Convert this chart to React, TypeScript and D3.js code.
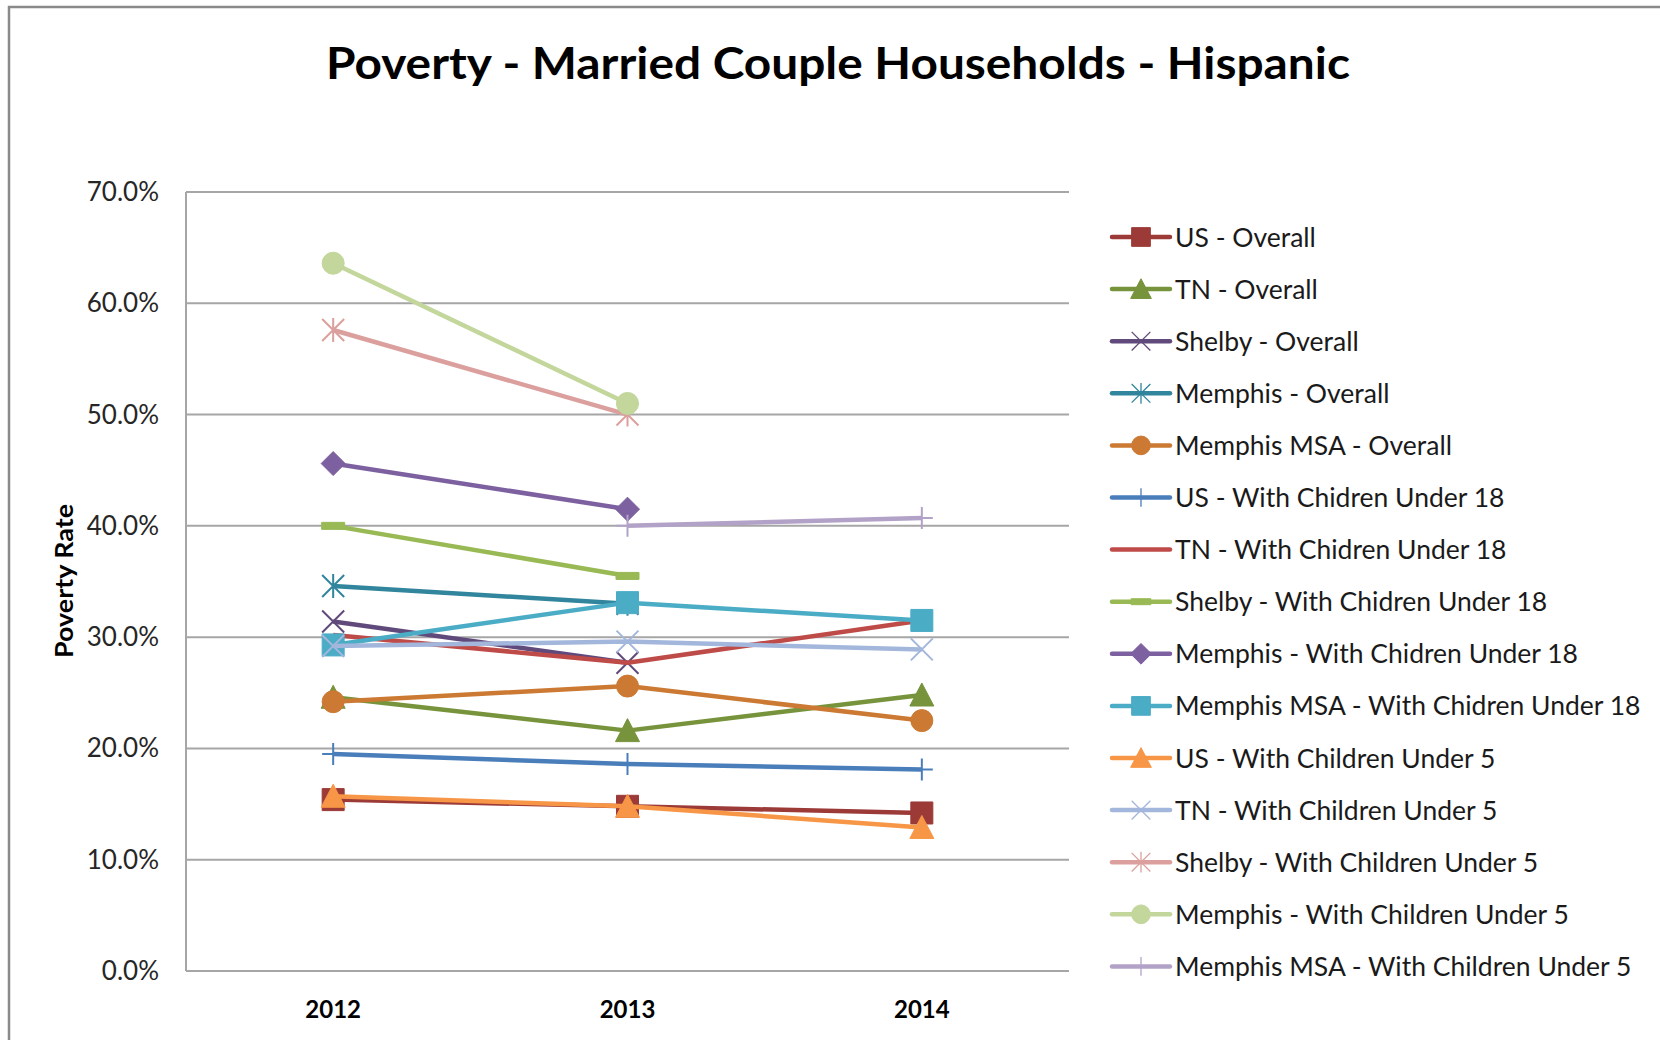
import React, { useRef, useEffect } from "react";
import * as d3 from "d3";

const years = ["2012", "2013", "2014"];

const seriesNames = [
  "US - Overall",
  "TN - Overall",
  "Shelby - Overall",
  "Memphis - Overall",
  "Memphis MSA - Overall",
  "US - With Chidren Under 18",
  "TN - With Chidren Under 18",
  "Shelby - With Chidren Under 18",
  "Memphis - With Chidren Under 18",
  "Memphis MSA - With Chidren Under 18",
  "US - With Children Under 5",
  "TN - With Children Under 5",
  "Shelby - With Children Under 5",
  "Memphis - With Children Under 5",
  "Memphis MSA - With Children Under 5",
];

const seriesColors = [
  "#9B3A37",
  "#77933C",
  "#604A7B",
  "#31859C",
  "#CC7A33",
  "#4A7EBB",
  "#BE4B48",
  "#98B954",
  "#7D60A0",
  "#4BACC6",
  "#F79646",
  "#A3B6DB",
  "#DBA09D",
  "#C3D69B",
  "#B3A2C7",
];

const seriesMarkers = [
  "square", "triangle", "x", "asterisk", "circle",
  "plus", "none", "dash", "diamond", "square",
  "triangle", "x", "asterisk", "circle", "plus",
];

// values in percent, null = no data
const usOverall = [15.4, 14.8, 14.2];
const tnOverall = [24.6, 21.6, 24.8];
const shelbyOverall = [31.4, 27.7, null];
const memphisOverall = [34.6, 33.0, null];
const msaOverall = [24.2, 25.6, 22.5];
const usUnder18 = [19.5, 18.6, 18.1];
const tnUnder18 = [30.2, 27.7, 31.5];
const shelbyUnder18 = [40.0, 35.5, null];
const memphisUnder18 = [45.6, 41.5, null];
const msaUnder18 = [29.3, 33.1, 31.5];
const usUnder5 = [15.7, 14.8, 12.9];
const tnUnder5 = [29.2, 29.6, 28.9];
const shelbyUnder5 = [57.6, 50.0, null];
const memphisUnder5 = [63.6, 51.0, null];
const msaUnder5 = [null, 40.0, 40.7];

const seriesValues = [
  usOverall, tnOverall, shelbyOverall, memphisOverall, msaOverall,
  usUnder18, tnUnder18, shelbyUnder18, memphisUnder18, msaUnder18,
  usUnder5, tnUnder5, shelbyUnder5, memphisUnder5, msaUnder5,
];

const yTicks = [0, 10, 20, 30, 40, 50, 60, 70];

const FONT = "Lato, 'Open Sans', sans-serif";

function markerPath(type: string, k: number) {
  const s = 11 * k;
  switch (type) {
    case "square":
      return `M${-s},${-s}H${s}V${s}H${-s}Z`;
    case "triangle":
      return `M0,${-s - 1}L${s + 1},${s}L${-s - 1},${s}Z`;
    case "diamond":
      return `M0,${-s - 1}L${s + 1},0L0,${s + 1}L${-s - 1},0Z`;
    case "circle":
      return d3.symbol(d3.symbolCircle, Math.PI * s * s)() as string;
    case "dash":
      return `M${-s - 0.5},${-3.5 * k}H${s + 0.5}V${3.5 * k}H${-s - 0.5}Z`;
    case "x":
      return `M${-s},${-s}L${s},${s}M${s},${-s}L${-s},${s}`;
    case "plus":
      return `M${-s},0H${s}M0,${-s}V${s}`;
    case "asterisk":
      return `M${-s},${-s}L${s},${s}M${s},${-s}L${-s},${s}M0,${-s - 1}V${s + 1}`;
    default:
      return "";
  }
}

const filled = new Set(["square", "triangle", "diamond", "circle", "dash"]);

export default function App() {
  const svgRef = useRef<SVGSVGElement>(null);

  useEffect(() => {
    const width = 1660;
    const height = 1040;
    const left = 186;
    const right = 1069;
    const top = 192;
    const bottom = 971;

    const svg = d3.select(svgRef.current);
    svg.selectAll("*").remove();
    svg.attr("width", width).attr("height", height);

    svg.append("rect").attr("width", width).attr("height", height).attr("fill", "#fff");

    // outer chart border
    svg
      .append("rect")
      .attr("x", 9)
      .attr("y", 7)
      .attr("width", 1720)
      .attr("height", 1100)
      .attr("fill", "none")
      .attr("stroke", "#8A8A8A")
      .attr("stroke-width", 2.5);

    const x = d3.scaleBand().domain(years).range([left, right]).padding(0);
    const y = d3.scaleLinear().domain([0, 70]).range([bottom, top]);

    // title
    svg
      .append("text")
      .attr("x", 838)
      .attr("y", 79)
      .attr("text-anchor", "middle")
      .attr("textLength", 1024)
      .attr("lengthAdjust", "spacingAndGlyphs")
      .style("font-family", FONT)
      .style("font-weight", "bold")
      .style("font-size", "43px")
      .style("fill", "#000")
      .text("Poverty - Married Couple Households - Hispanic");

    // gridlines
    svg
      .append("g")
      .selectAll("line")
      .data(yTicks)
      .join("line")
      .attr("x1", left)
      .attr("x2", right)
      .attr("y1", (d) => y(d))
      .attr("y2", (d) => y(d))
      .attr("stroke", "#A6A6A6")
      .attr("stroke-width", 2);

    // left axis line
    svg
      .append("line")
      .attr("x1", left)
      .attr("x2", left)
      .attr("y1", top)
      .attr("y2", bottom)
      .attr("stroke", "#A6A6A6")
      .attr("stroke-width", 2);

    // y tick labels
    svg
      .append("g")
      .selectAll("text")
      .data(yTicks)
      .join("text")
      .attr("x", 159)
      .attr("y", (d) => y(d) + 9)
      .attr("text-anchor", "end")
      .style("font-family", FONT)
      .style("font-size", "26px")
      .style("fill", "#262626")
      .text((d) => d3.format(".1f")(d) + "%");

    // x labels
    svg
      .append("g")
      .selectAll("text")
      .data(years)
      .join("text")
      .attr("x", (d) => (x(d) as number) + x.bandwidth() / 2)
      .attr("y", 1018)
      .attr("text-anchor", "middle")
      .style("font-family", FONT)
      .style("font-weight", "bold")
      .style("font-size", "24px")
      .style("fill", "#000")
      .text((d) => d);

    // y title
    svg
      .append("text")
      .attr("transform", "translate(73, 581) rotate(-90)")
      .attr("text-anchor", "middle")
      .attr("textLength", 154)
      .attr("lengthAdjust", "spacingAndGlyphs")
      .style("font-family", FONT)
      .style("font-weight", "bold")
      .style("font-size", "25px")
      .style("fill", "#000")
      .text("Poverty Rate");

    const cx = (i: number) => (x(years[i]) as number) + x.bandwidth() / 2;

    const line = d3
      .line<number | null>()
      .defined((d) => d !== null)
      .x((_, i) => cx(i))
      .y((d) => y(d as number));

    const plot = svg.append("g");

    seriesValues.forEach((vals, si) => {
      const color = seriesColors[si];
      const g = plot.append("g");
      g.append("path")
        .datum(vals)
        .attr("d", line)
        .attr("fill", "none")
        .attr("stroke", color)
        .attr("stroke-width", 4.5)
        .attr("stroke-linejoin", "round");

      const m = seriesMarkers[si];
      if (m === "none") return;
      const pts = vals
        .map((v, i) => ({ v, i }))
        .filter((p) => p.v !== null);
      g.selectAll("path.mk")
        .data(pts)
        .join("path")
        .attr("class", "mk")
        .attr("transform", (p) => `translate(${cx(p.i)},${y(p.v as number)})`)
        .attr("d", markerPath(m, 1))
        .attr("fill", filled.has(m) ? color : "none")
        .attr("stroke", color)
        .attr("stroke-width", filled.has(m) ? 1 : 2);
    });

    // legend
    const legend = svg.append("g");
    const rowY = (i: number) => 237 + i * 52.1;
    seriesNames.forEach((name, i) => {
      const color = seriesColors[i];
      const row = legend.append("g").attr("transform", `translate(0,${rowY(i)})`);
      row
        .append("line")
        .attr("x1", 1112)
        .attr("x2", 1170)
        .attr("stroke", color)
        .attr("stroke-width", 4.5)
        .attr("stroke-linecap", "round");
      const m = seriesMarkers[i];
      if (m !== "none") {
        row
          .append("path")
          .attr("transform", "translate(1141,0)")
          .attr("d", markerPath(m, 0.85))
          .attr("fill", filled.has(m) ? color : "none")
          .attr("stroke", color)
          .attr("stroke-width", filled.has(m) ? 1 : 1.3);
      }
      row
        .append("text")
        .attr("x", 1175)
        .attr("y", 9.5)
        .style("font-family", FONT)
        .style("font-size", "26.5px")
        .style("fill", "#1a1a1a")
        .text(name);
    });
  }, []);

  return (
    <svg
      ref={svgRef}
      style={{ position: "absolute", left: 0, top: 0, display: "block" }}
    ></svg>
  );
}
